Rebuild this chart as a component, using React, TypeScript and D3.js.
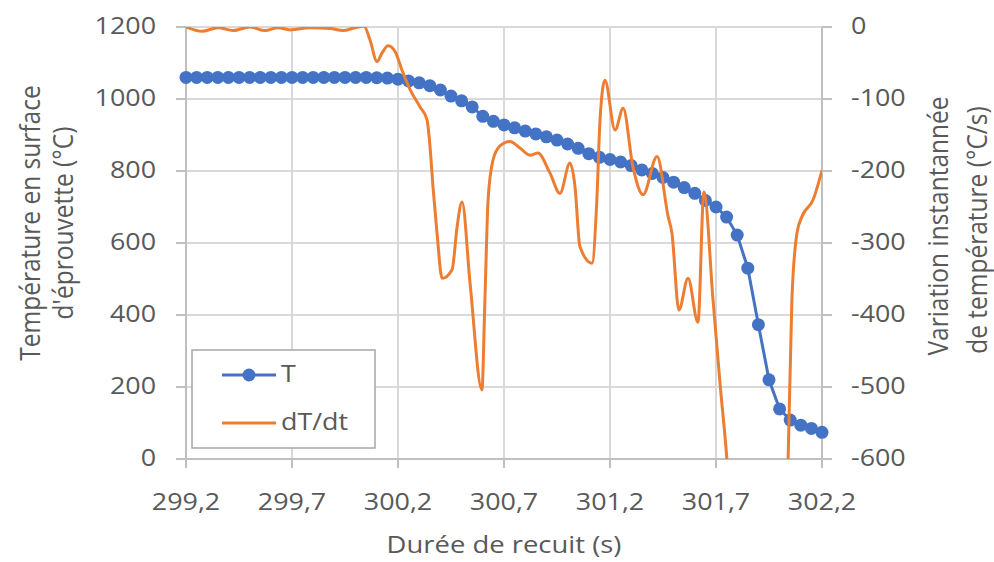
import React from 'react';
import * as d3 from 'd3';

// Temperature series T (°C) at each time (s)
const tTimes = [
  299.2, 299.25, 299.3, 299.35, 299.4, 299.45, 299.5, 299.55, 299.6, 299.65,
  299.7, 299.75, 299.8, 299.85, 299.9, 299.95, 300.0, 300.05, 300.1, 300.15,
  300.2, 300.25, 300.3, 300.35, 300.4, 300.45, 300.5, 300.55, 300.6, 300.65,
  300.7, 300.75, 300.8, 300.85, 300.9, 300.95, 301.0, 301.05, 301.1, 301.15,
  301.2, 301.25, 301.3, 301.35, 301.4, 301.45, 301.5, 301.55, 301.6, 301.65,
  301.7, 301.75, 301.8, 301.85, 301.9, 301.95, 302.0, 302.05, 302.1, 302.15,
  302.2,
];
const tValues = [
  1060, 1060, 1060, 1060, 1060, 1060, 1060, 1060, 1060, 1060,
  1060, 1060, 1060, 1060, 1060, 1060, 1060, 1060, 1059, 1058,
  1055, 1050, 1045, 1037, 1025, 1008, 995, 978, 952, 938,
  928, 920, 911, 903, 895, 886, 875, 863, 848, 838,
  832, 825, 815, 803, 793, 782, 769, 754, 738, 718,
  700, 672, 622, 530, 373, 220, 139, 108, 94, 85,
  74,
];

// dT/dt series (°C/s)
const dTimes = [
  299.2, 299.275, 299.351, 299.422, 299.502, 299.573, 299.634, 299.691, 299.785, 299.879,
  299.941, 299.997, 300.04, 300.068, 300.101, 300.125, 300.153, 300.186, 300.219, 300.257,
  300.304, 300.337, 300.351, 300.365, 300.384, 300.408, 300.455, 300.479, 300.502, 300.54,
  300.596, 300.61, 300.625, 300.648, 300.681, 300.728, 300.775, 300.823, 300.86, 300.917,
  300.964, 301.011, 301.035, 301.058, 301.115, 301.138, 301.153, 301.176, 301.224, 301.262,
  301.308, 301.356, 301.422, 301.474, 301.492, 301.525, 301.568, 301.615, 301.643, 301.686,
  301.719, 301.752, 301.814, 301.894, 301.979, 302.04, 302.058, 302.082, 302.106, 302.158,
  302.2,
];
const dValues = [
  0, -6, -1, -5, 0, -5, -1, -4, -1, -2,
  -5, -1, 1, -18, -48, -36, -26, -34, -60, -87,
  -111, -129, -166, -222, -286, -349, -337, -277, -243, -356,
  -504, -379, -240, -185, -165, -159, -168, -178, -175, -203,
  -231, -189, -222, -305, -328, -240, -129, -74, -143, -113,
  -194, -233, -180, -263, -286, -393, -349, -410, -229, -379,
  -495, -602, -900, -1100, -900, -602, -379, -286, -263, -240,
  -199,
];

const xTicks = [299.2, 299.7, 300.2, 300.7, 301.2, 301.7, 302.2];
const leftTicks = [0, 200, 400, 600, 800, 1000, 1200];
const rightTicks = [0, -100, -200, -300, -400, -500, -600];

const seriesNames = ['T', 'dT/dt'];
const xTitle = 'Durée de recuit (s)';
const yLeftTitle = ['Température en surface', "d'éprouvette (°C)"];
const yRightTitle = ['Variation instantannée', 'de température (°C/s)'];

const BLUE = '#4472C4';
const ORANGE = '#ED7D31';
const TEXT = '#595959';
const GRID = '#D9D9D9';
const AXIS = '#BFBFBF';
const FONT = '"Open Sans", "Liberation Sans", sans-serif';
const SX = 1.12; // horizontal stretch of the reference's text

type STProps = {
  x: number;
  y: number;
  anchor?: 'start' | 'middle' | 'end';
  rotate?: number;
  size: number;
  dy?: string;
  children: React.ReactNode;
};

function SText({ x, y, anchor = 'start', rotate = 0, size, dy = '0', children }: STProps) {
  return (
    <g transform={`translate(${x},${y}) scale(${SX},1) rotate(${rotate})`}>
      <text x={0} y={0} dy={dy} textAnchor={anchor} fontSize={size} fill={TEXT}>
        {children}
      </text>
    </g>
  );
}

export default function App() {
  const W = 994;
  const H = 562;
  const left = 186, right = 822, top = 27, bottom = 459;

  const x = d3.scaleLinear().domain([299.2, 302.2]).range([left, right]);
  const yL = d3.scaleLinear().domain([0, 1200]).range([bottom, top]);
  const yR = d3.scaleLinear().domain([-600, 0]).range([bottom, top]);

  const fmt = (v: number) => d3.format('.1f')(v).replace('.', ',');

  const lineT = d3
    .line<number>()
    .x((_, i) => x(tTimes[i]))
    .y((d) => yL(d))
    .curve(d3.curveLinear);

  const lineD = d3
    .line<number>()
    .x((_, i) => x(dTimes[i]))
    .y((d) => yR(d))
    .curve(d3.curveMonotoneX);

  const fs = 24;
  const ts = 24.5;

  return (
    <svg
      width={W}
      height={H}
      style={{ position: 'absolute', left: 0, top: 0, background: '#fff' }}
      fontFamily={FONT}
    >
      <defs>
        <clipPath id="plotClip">
          <rect x={left} y={top} width={right - left} height={bottom - top} />
        </clipPath>
      </defs>
      <rect x={0} y={0} width={W} height={H} fill="#fff" />

      {/* horizontal gridlines */}
      {leftTicks.map((v) => (
        <line key={'hg' + v} x1={left} x2={right} y1={yL(v)} y2={yL(v)} stroke={GRID} strokeWidth={2} />
      ))}
      {/* vertical gridlines */}
      {xTicks.map((v) => (
        <line key={'vg' + v} x1={x(v)} x2={x(v)} y1={top} y2={bottom} stroke={GRID} strokeWidth={2} />
      ))}

      {/* axes lines */}
      <line x1={left} x2={left} y1={top} y2={bottom} stroke={AXIS} strokeWidth={2} />
      <line x1={right} x2={right} y1={top} y2={bottom} stroke={AXIS} strokeWidth={2} />
      <line x1={left} x2={right} y1={bottom} y2={bottom} stroke={AXIS} strokeWidth={2} />

      {/* tick marks */}
      {leftTicks.map((v) => (
        <line key={'lt' + v} x1={left - 10} x2={left} y1={yL(v)} y2={yL(v)} stroke={AXIS} strokeWidth={2} />
      ))}
      {rightTicks.map((v) => (
        <line key={'rt' + v} x1={right} x2={right + 10} y1={yR(v)} y2={yR(v)} stroke={AXIS} strokeWidth={2} />
      ))}
      {xTicks.map((v) => (
        <line key={'xt' + v} x1={x(v)} x2={x(v)} y1={bottom} y2={bottom + 9} stroke={AXIS} strokeWidth={2} />
      ))}

      {/* tick labels */}
      {leftTicks.map((v) => (
        <SText key={'ll' + v} x={156} y={yL(v) - 1} dy="0.35em" anchor="end" size={fs}>
          {v}
        </SText>
      ))}
      {rightTicks.map((v) => (
        <SText key={'rl' + v} x={851} y={yR(v) - 1} dy="0.35em" anchor="start" size={fs}>
          {v}
        </SText>
      ))}
      {xTicks.map((v) => (
        <SText key={'xl' + v} x={x(v)} y={510} anchor="middle" size={fs}>
          {fmt(v)}
        </SText>
      ))}

      {/* axis titles */}
      <SText x={504} y={553} anchor="middle" size={ts}>
        {xTitle}
      </SText>
      <SText x={30} y={223} dy="0.35em" anchor="middle" rotate={-90} size={ts}>
        {yLeftTitle[0]}
      </SText>
      <SText x={63} y={223} dy="0.35em" anchor="middle" rotate={-90} size={ts}>
        {yLeftTitle[1]}
      </SText>
      <SText x={938} y={226} dy="0.35em" anchor="middle" rotate={-90} size={ts}>
        {yRightTitle[0]}
      </SText>
      <SText x={977} y={230} dy="0.35em" anchor="middle" rotate={-90} size={ts}>
        {yRightTitle[1]}
      </SText>

      {/* T series */}
      <path d={lineT(tValues) || ''} fill="none" stroke={BLUE} strokeWidth={3} />
      {tValues.map((v, i) => (
        <circle key={'m' + i} cx={x(tTimes[i])} cy={yL(v)} r={6.5} fill={BLUE} />
      ))}

      {/* dT/dt series */}
      <g clipPath="url(#plotClip)">
        <path d={lineD(dValues) || ''} fill="none" stroke={ORANGE} strokeWidth={3} strokeLinejoin="round" />
      </g>

      {/* legend */}
      <rect x={192} y={350} width={183} height={98} fill="#fff" stroke="#A6A6A6" strokeWidth={1.5} />
      <line x1={222} x2={276} y1={375} y2={375} stroke={BLUE} strokeWidth={3} />
      <circle cx={249} cy={375} r={6.5} fill={BLUE} />
      <SText x={281} y={374} dy="0.35em" size={fs}>
        {seriesNames[0]}
      </SText>
      <line x1={222} x2={276} y1={423} y2={423} stroke={ORANGE} strokeWidth={3} />
      <SText x={281} y={422} dy="0.35em" size={fs}>
        {seriesNames[1]}
      </SText>
    </svg>
  );
}
